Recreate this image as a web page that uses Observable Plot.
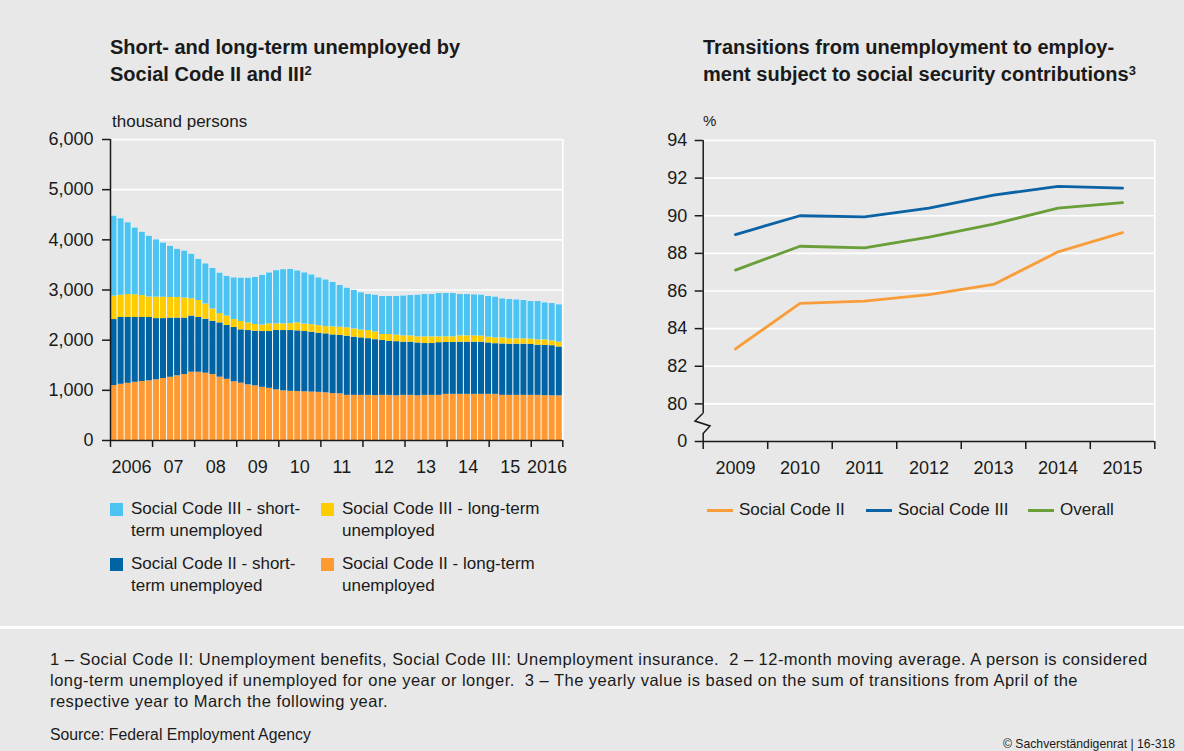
<!DOCTYPE html>
<html><head><meta charset="utf-8">
<script src="https://cdn.jsdelivr.net/npm/d3@7"></script>
<script src="https://cdn.jsdelivr.net/npm/@observablehq/plot@0.6"></script>
<style>
body{margin:0;background:#e8e8e8;}
#wrap{position:relative;width:1184px;height:751px;background:#e8e8e8;overflow:hidden;font-family:"Liberation Sans",Arial,sans-serif;color:#1a1a1a;}
.abs{position:absolute;white-space:nowrap;}
.title{font-weight:bold;font-size:20px;line-height:27px;}
.sup{font-size:13px;position:relative;top:-6px;}
.leg{font-size:17px;line-height:22px;}
.sq{position:absolute;width:13px;height:13px;}
.ln{position:absolute;width:26px;height:3px;}
.foot{font-size:16.5px;line-height:20.8px;letter-spacing:0.47px;}
#left,#right{position:absolute;top:100px;}
#left{left:0;} #right{left:600px;}
</style></head><body><div id="wrap">
<div class="abs title" style="left:110px;top:34px;">Short- and long-term unemployed by<br>Social Code II and III<span class="sup">2</span></div>
<div class="abs title" style="left:703px;top:34px;">Transitions from unemployment to employ-<br>ment subject to social security contributions<span class="sup">3</span></div>
<div class="abs" style="left:112px;top:111px;font-size:17px;line-height:22px;">thousand persons</div>
<div class="abs" style="left:703px;top:110px;font-size:15px;line-height:22px;">%</div>
<div id="left"></div>
<div id="right"></div>
<div id="legL"></div>
<div id="legR"></div>
<div class="abs" style="left:0;top:626px;width:1184px;height:3px;background:#fff;"></div>
<div class="abs foot" style="left:50px;top:649px;">1 – Social Code II: Unemployment benefits, Social Code III: Unemployment insurance.&nbsp; 2 – 12-month moving average. A person is considered<br>long-term unemployed if unemployed for one year or longer.&nbsp; 3 – The yearly value is based on the sum of transitions from April of the<br>respective year to March the following year.</div>
<div class="abs" style="left:50px;top:724px;font-size:15.8px;line-height:22px;">Source: Federal Employment Agency</div>
<div class="abs" style="left:1003px;top:736px;font-size:12.2px;line-height:16px;">© Sachverständigenrat | 16-318</div>
</div>
<script>
// ---- Left chart data (thousand persons, bimonthly bars, Jan 2006 – Sep 2016)
const sc2Long = [1096,1120,1140,1160,1176,1190,1209,1236,1260,1290,1315,1362,1360,1342,1315,1262,1220,1170,1143,1110,1089,1060,1040,1010,990,980,977,970,965,960,950,935,930,900,900,900,900,895,900,900,890,900,900,890,900,900,900,920,920,920,920,920,920,920,920,900,900,900,900,900,900,895,890,890];
const sc2Short = [1315,1332,1312,1292,1276,1262,1221,1194,1180,1150,1125,1118,1092,1076,1063,1083,1072,1082,1063,1082,1090,1112,1132,1182,1202,1212,1209,1202,1194,1179,1176,1170,1163,1180,1160,1146,1130,1115,1093,1075,1080,1060,1060,1055,1033,1033,1050,1035,1035,1040,1040,1040,1040,1025,1010,1025,1020,1020,1020,1015,1000,1000,1000,975];
const sc3Long = [466,443,458,453,438,408,427,425,410,410,400,345,338,302,242,185,188,159,166,153,133,128,153,133,133,138,159,148,151,151,144,160,165,166,165,154,162,155,120,138,130,126,126,121,133,133,116,111,111,126,126,126,120,115,116,121,106,106,106,105,106,111,95,95];
const sc3Short = [1594,1525,1430,1330,1260,1210,1143,1080,1020,960,935,885,820,800,810,805,790,829,863,890,938,990,1015,1060,1080,1080,1035,1020,990,950,930,885,832,789,765,745,718,730,757,757,770,794,804,829,844,844,864,864,864,824,824,817,817,810,811,777,784,777,764,750,764,737,745,744];
const leftSeries = ["Social Code II - long-term unemployed","Social Code II - short-term unemployed","Social Code III - long-term unemployed","Social Code III - short-term unemployed"];
const leftColors = ["#FF9A33","#0063A3","#FFCC00","#4DC3F2"];
const leftYTicks = [0,1000,2000,3000,4000,5000,6000];
const yearBounds = [2006,2007,2008,2009,2010,2011,2012,2013,2014,2015,2016,2016.75];
const xLabels = ["2006","07","08","09","10","11","12","13","14","15","2016"];
const periodStart = 2006, periodEnd = 2016.75;

// ---- Right chart data (%)
const years = [2009,2010,2011,2012,2013,2014,2015];
const sc2Trans = [82.92,85.34,85.46,85.81,86.35,88.08,89.10];
const sc3Trans = [89.00,90.00,89.94,90.41,91.10,91.56,91.47];
const overallTrans = [87.11,88.38,88.29,88.87,89.56,90.41,90.70];
const rightSeries = ["Social Code II","Social Code III","Overall"];
const rightColors = ["#F99D3A","#0B63A5","#6A9E38"];
const rightYTicks = [78,80,82,84,86,88,90,92,94];
const rightYLabels = ["0","80","82","84","86","88","90","92","94"];

const font = "'Liberation Sans', Arial, sans-serif";
const ink = "#1a1a1a";

// Build left table
const lists = [sc2Long, sc2Short, sc3Long, sc3Short];
const N = sc2Long.length;
const step = (periodEnd - periodStart) / N;
const segs = [], totals = [];
for (let i = 0; i < N; i++) {
  const x1 = periodStart + i * step, x2 = x1 + step;
  let acc = 0;
  lists.forEach((arr, k) => {
    segs.push({x1, x2, y1: acc, y2: acc + arr[i], series: leftSeries[k]});
    acc += arr[i];
  });
  totals.push({x1, x2, total: acc});
}
const labelPos = yearBounds.slice(0, -1).map((y, i) => (y + yearBounds[i + 1]) / 2);
const labelMap = new Map(labelPos.map((p, i) => [p, xLabels[i]]));

const left = Plot.plot({
  width: 600, height: 380,
  marginLeft: 110, marginRight: 37.7, marginTop: 39, marginBottom: 40,
  style: {background: "transparent", fontFamily: font, color: ink, overflow: "visible"},
  x: {domain: [periodStart, periodEnd], label: null},
  y: {domain: [0, 6000], label: null},
  color: {domain: leftSeries, range: leftColors},
  marks: [
    Plot.gridY(leftYTicks, {stroke: "white", strokeOpacity: 1, strokeWidth: 1.6}),
    Plot.ruleX([periodEnd], {stroke: "white", strokeWidth: 1.6}),
    Plot.rect(totals, {x1: "x1", x2: "x2", y1: 0, y2: "total", fill: "white"}),
    Plot.rect(segs, {x1: "x1", x2: "x2", y1: "y1", y2: "y2", fill: "series", insetLeft: 0.5, insetRight: 0.5}),
    Plot.ruleY([0], {stroke: ink, strokeWidth: 1.5}),
    Plot.ruleX([periodStart], {stroke: ink, strokeWidth: 1.5}),
    Plot.axisY(leftYTicks, {label: null, tickSize: 8, tickPadding: 9, tickFormat: d3.format(","), fontSize: 18, stroke: ink, strokeWidth: 1.5}),
    Plot.axisX(yearBounds, {label: null, tickSize: 7, tickFormat: () => "", stroke: ink, strokeWidth: 1.5}),
    Plot.axisX(labelPos, {label: null, tickSize: 0, tickPadding: 20, tickFormat: d => labelMap.get(d), fontSize: 18})
  ]
});
document.getElementById("left").appendChild(left);

// Build right table
const lineRows = [];
[sc2Trans, sc3Trans, overallTrans].forEach((arr, k) => arr.forEach((v, i) => lineRows.push({year: years[i], value: v, series: rightSeries[k]})));
const xBounds = [years[0] - 0.5, ...years.map(y => y + 0.5)];
const rLabelMap = new Map(rightYTicks.map((t, i) => [t, rightYLabels[i]]));
const yMin = rightYTicks[0];

const right = Plot.plot({
  width: 584, height: 380,
  marginLeft: 102.7, marginRight: 29.7, marginTop: 40, marginBottom: 39,
  style: {background: "transparent", fontFamily: font, color: ink, overflow: "visible"},
  x: {domain: [xBounds[0], xBounds[xBounds.length - 1]], label: null},
  y: {domain: [yMin, 94], label: null},
  color: {domain: rightSeries, range: rightColors},
  marks: [
    Plot.gridY(rightYTicks.slice(1), {stroke: "white", strokeOpacity: 1, strokeWidth: 1.6}),
    Plot.ruleX([xBounds[xBounds.length - 1]], {stroke: "white", strokeWidth: 1.6}),
    Plot.line(lineRows, {x: "year", y: "value", z: "series", stroke: "series", strokeWidth: 2.8}),
    Plot.ruleY([yMin], {stroke: ink, strokeWidth: 1.5}),
    Plot.ruleX([xBounds[0]], {y1: 79.46, y2: 94, stroke: ink, strokeWidth: 1.5}),
    Plot.ruleX([xBounds[0]], {y1: yMin, y2: 78.37, stroke: ink, strokeWidth: 1.5}),
    Plot.axisY(rightYTicks, {label: null, tickSize: 8, tickPadding: 8, tickFormat: d => rLabelMap.get(d), fontSize: 18, stroke: ink, strokeWidth: 1.5}),
    Plot.axisX(xBounds, {label: null, tickSize: 8, tickFormat: () => "", stroke: ink, strokeWidth: 1.5}),
    Plot.axisX(years, {label: null, tickSize: 0, tickPadding: 20, tickFormat: d => String(d), fontSize: 18})
  ]
});
// axis break zigzag
{
  const sx = right.scale("x"), sy = right.scale("y");
  const x0 = sx.apply(xBounds[0]);
  const p = [[x0, sy.apply(79.46)], [x0 - 7.7, sy.apply(79.06)], [x0 + 7.3, sy.apply(78.8)], [x0, sy.apply(78.37)]];
  const path = document.createElementNS("http://www.w3.org/2000/svg", "path");
  path.setAttribute("d", "M" + p.map(q => q.join(",")).join("L"));
  path.setAttribute("fill", "none");
  path.setAttribute("stroke", ink);
  path.setAttribute("stroke-width", "1.5");
  right.appendChild(path);
}
document.getElementById("right").appendChild(right);

// Legends
const legL = document.getElementById("legL");
const legItems = [
  {k: 3, x: 110, y: 503, t: "Social Code III - short-<br>term unemployed"},
  {k: 2, x: 321, y: 503, t: "Social Code III - long-term<br>unemployed"},
  {k: 1, x: 110, y: 558, t: "Social Code II - short-<br>term unemployed"},
  {k: 0, x: 321, y: 558, t: "Social Code II - long-term<br>unemployed"}
];
legItems.forEach(it => {
  const sq = document.createElement("div");
  sq.className = "sq";
  sq.style.left = it.x + "px"; sq.style.top = it.y + "px"; sq.style.background = leftColors[it.k];
  legL.appendChild(sq);
  const tx = document.createElement("div");
  tx.className = "abs leg";
  tx.style.left = (it.x + 21) + "px"; tx.style.top = (it.y - 5) + "px";
  tx.innerHTML = it.t;
  legL.appendChild(tx);
});
const legR = document.getElementById("legR");
[{k: 0, x: 707}, {k: 1, x: 866}, {k: 2, x: 1028}].forEach(it => {
  const ln = document.createElement("div");
  ln.className = "ln";
  ln.style.left = it.x + "px"; ln.style.top = "509px"; ln.style.background = rightColors[it.k];
  legR.appendChild(ln);
  const tx = document.createElement("div");
  tx.className = "abs leg";
  tx.style.left = (it.x + 32) + "px"; tx.style.top = "499px";
  tx.textContent = rightSeries[it.k];
  legR.appendChild(tx);
});
</script>
</body></html>
